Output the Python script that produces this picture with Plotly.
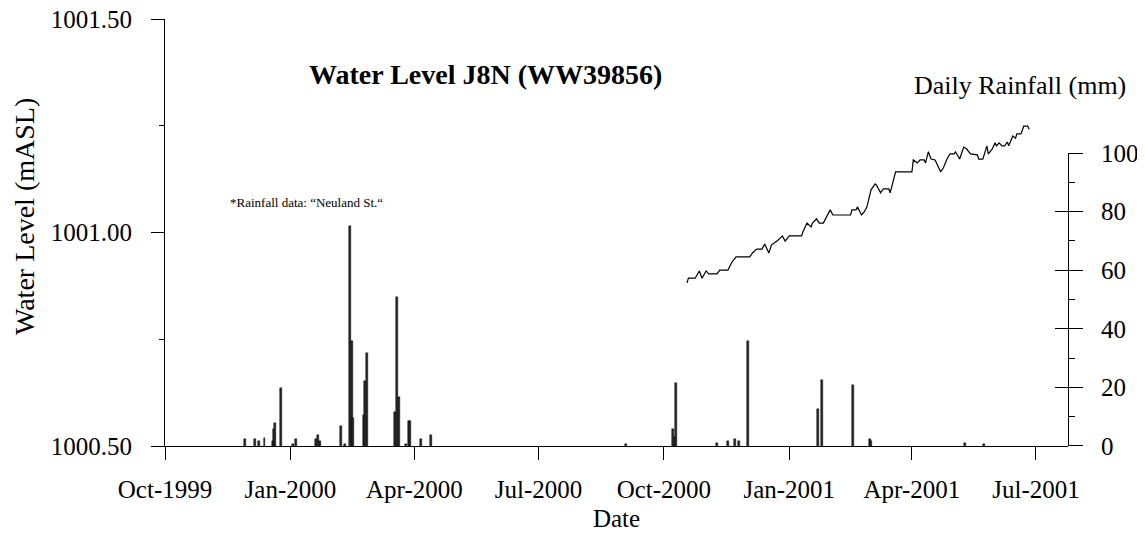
import plotly.graph_objects as go

# ---------------- data ----------------
wl_dates = ["2000-10-18", "2000-10-19", "2000-10-24", "2000-10-27", "2000-10-29", "2000-11-01",
            "2000-11-03", "2000-11-09", "2000-11-11", "2000-11-17", "2000-11-20", "2000-11-23",
            "2000-12-03", "2000-12-05", "2000-12-08", "2000-12-12", "2000-12-14", "2000-12-17",
            "2000-12-19", "2000-12-23", "2000-12-27", "2000-12-29", "2001-01-01", "2001-01-10",
            "2001-01-11", "2001-01-14", "2001-01-17", "2001-01-18", "2001-01-21", "2001-01-23",
            "2001-01-26", "2001-01-28", "2001-01-31", "2001-02-02", "2001-02-15", "2001-02-16",
            "2001-02-19", "2001-02-20", "2001-02-23", "2001-02-25", "2001-02-27", "2001-03-02",
            "2001-03-05", "2001-03-06", "2001-03-09", "2001-03-11", "2001-03-15", "2001-03-16",
            "2001-03-20", "2001-04-01", "2001-04-02", "2001-04-05", "2001-04-07", "2001-04-10",
            "2001-04-11", "2001-04-13", "2001-04-15", "2001-04-18", "2001-04-22", "2001-04-24",
            "2001-04-27", "2001-04-29", "2001-05-02", "2001-05-03", "2001-05-06", "2001-05-09",
            "2001-05-11", "2001-05-14", "2001-05-19", "2001-05-20", "2001-05-23", "2001-05-26",
            "2001-05-27", "2001-05-30", "2001-06-01", "2001-06-02", "2001-06-04", "2001-06-06",
            "2001-06-08", "2001-06-10", "2001-06-11", "2001-06-14", "2001-06-16", "2001-06-17",
            "2001-06-20", "2001-06-22", "2001-06-25", "2001-06-26"]
wl_values = [1000.882, 1000.893, 1000.893, 1000.910, 1000.893, 1000.910,
             1000.903, 1000.903, 1000.912, 1000.912, 1000.931, 1000.943,
             1000.943, 1000.952, 1000.961, 1000.961, 1000.973, 1000.952,
             1000.971, 1000.980, 1000.992, 1000.980, 1000.992, 1000.992,
             1001.001, 1001.022, 1001.013, 1001.022, 1001.032, 1001.022,
             1001.022, 1001.034, 1001.053, 1001.041, 1001.041, 1001.053,
             1001.053, 1001.060, 1001.041, 1001.048, 1001.060, 1001.100,
             1001.114, 1001.111, 1001.093, 1001.102, 1001.102, 1001.093,
             1001.142, 1001.142, 1001.170, 1001.163, 1001.170, 1001.170,
             1001.163, 1001.189, 1001.172, 1001.170, 1001.142, 1001.151,
             1001.174, 1001.184, 1001.184, 1001.189, 1001.172, 1001.200,
             1001.196, 1001.184, 1001.182, 1001.172, 1001.172, 1001.203,
             1001.184, 1001.196, 1001.210, 1001.203, 1001.210, 1001.203,
             1001.203, 1001.212, 1001.203, 1001.226, 1001.221, 1001.231,
             1001.231, 1001.249, 1001.249, 1001.242]

rain_dates = ["1999-11-29", "1999-12-06", "1999-12-09", "1999-12-13", "1999-12-19", "1999-12-20",
              "1999-12-21", "1999-12-25", "2000-01-03", "2000-01-05", "2000-01-20", "2000-01-21",
              "2000-01-23", "2000-02-07", "2000-02-10", "2000-02-14", "2000-02-15", "2000-02-16",
              "2000-02-24", "2000-02-25", "2000-02-26", "2000-03-18", "2000-03-19", "2000-03-21",
              "2000-03-26", "2000-03-28", "2000-03-29", "2000-04-06", "2000-04-13", "2000-09-03",
              "2000-10-08", "2000-10-09", "2000-10-10", "2000-11-09", "2000-11-17", "2000-11-22",
              "2000-11-25", "2000-12-02", "2001-01-22", "2001-01-25", "2001-02-17", "2001-03-01",
              "2001-03-02", "2001-05-10", "2001-05-24"]
rain_mm = [2.4, 2.4, 1.7, 2.6, 1.7, 5.8,
           7.8, 19.9, 0.6, 2.4, 2.5, 3.6,
           1.6, 6.7, 0.6, 75.0, 35.8, 9.6,
           10.7, 22.1, 31.7, 11.6, 50.7, 16.7,
           0.6, 8.4, 8.4, 2.5, 3.6, 0.5,
           5.7, 3.1, 21.6, 1.0, 1.6, 2.5,
           1.6, 35.8, 12.6, 22.6, 20.7, 2.5,
           1.6, 1.0, 0.6]

level_ticks = [1000.5, 1001.0, 1001.5]
rain_ticks = [0, 20, 40, 60, 80, 100]

FONT = "Liberation Serif"
DAY_MS = 86400000

# page body has an 8px margin: figure is offset by (8, 8) inside the window
OFF = 8
W, H = 1145 - OFF, 533 - OFF
L, T = 165 - OFF, 19 - OFF
PW, PH = 903, 427


def px(x):
    return (x - 165) / PW


def py(y):
    return (446 - y) / PH


fig = go.Figure()

fig.add_trace(go.Bar(
    x=rain_dates, y=rain_mm, yaxis="y2", width=1.4 * DAY_MS,
    marker=dict(color="#2a2a2a", line=dict(color="#000000", width=0.5)),
    showlegend=False, name="Daily Rainfall",
))
fig.add_trace(go.Scatter(
    x=wl_dates, y=wl_values, mode="lines", yaxis="y",
    line=dict(color="#000000", width=1.2),
    showlegend=False, name="Water Level",
))
# invisible trace to activate the crossing-tick overlay axis
fig.add_trace(go.Scatter(x=[rain_dates[0]], y=[0], yaxis="y3", mode="markers",
                         marker=dict(opacity=0), showlegend=False, hoverinfo="skip"))

fig.update_layout(
    width=W, height=H,
    margin=dict(l=L, r=W - L - PW, t=T, b=H - T - PH, autoexpand=False),
    paper_bgcolor="white", plot_bgcolor="rgba(0,0,0,0)",
    font=dict(family=FONT, size=25, color="black"),
    bargap=0,
    xaxis=dict(
        type="date", range=["1999-10-01", "2001-07-24 12:00"],
        tick0="1999-10-01", dtick="M3", tickformat="%b-%Y",
        ticks="outside", ticklen=13, tickwidth=1, tickcolor="black",
        showline=True, linecolor="black", linewidth=1, showgrid=False, zeroline=False,
        ticklabelstandoff=8, automargin=False, ticklabeloverflow="allow",
        title=dict(text="Date", standoff=7, font=dict(size=25)),
    ),
    yaxis=dict(
        range=[1000.5, 1001.5], tickvals=level_ticks, tickformat=".2f",
        ticks="outside", ticklen=13, tickwidth=1, tickcolor="black",
        minor=dict(dtick=0.25, tick0=1000.5, ticks="outside", ticklen=5, tickcolor="black", showgrid=False),
        showline=True, linecolor="black", linewidth=1, showgrid=False, zeroline=False,
        ticklabelstandoff=14, automargin=False, ticklabeloverflow="allow",
    ),
    yaxis2=dict(
        domain=[0, 0.686], anchor="x", side="right", range=[0, 100], tickvals=rain_ticks,
        ticks="outside", ticklen=14, tickwidth=1, tickcolor="black",
        minor=dict(dtick=10, tick0=0, ticks="outside", ticklen=6, tickcolor="black", showgrid=False),
        showline=True, linecolor="black", linewidth=1, showgrid=False, zeroline=False,
        ticklabelstandoff=13, automargin=False, ticklabeloverflow="allow",
    ),
    yaxis3=dict(
        overlaying="y2", anchor="x", side="right", range=[0, 100], tickvals=rain_ticks,
        ticks="inside", ticklen=13, tickwidth=1, tickcolor="black",
        showticklabels=False, showline=False, showgrid=False, zeroline=False, automargin=False,
    ),
    annotations=[
        dict(text="Water Level (mASL)", xref="paper", yref="paper", textangle=-90,
             x=px(25), y=py(217), xanchor="center", yanchor="middle",
             showarrow=False, font=dict(family=FONT, size=28, color="black")),
        dict(text="<b>Water Level J8N (WW39856)</b>", xref="paper", yref="paper",
             x=px(485), y=py(74), xanchor="center", yanchor="middle",
             showarrow=False, font=dict(family=FONT, size=28, color="black")),
        dict(text="Daily Rainfall (mm)", xref="paper", yref="paper",
             x=px(1128), y=py(86), xanchor="right", yanchor="middle",
             showarrow=False, font=dict(family=FONT, size=26, color="black")),
        dict(text="*Rainfall data: “Neuland St.“", xref="paper", yref="paper",
             x=px(228), y=py(202), xanchor="left", yanchor="middle",
             showarrow=False, font=dict(family=FONT, size=13, color="black")),
    ],
)

fig.write_html("out.html")
